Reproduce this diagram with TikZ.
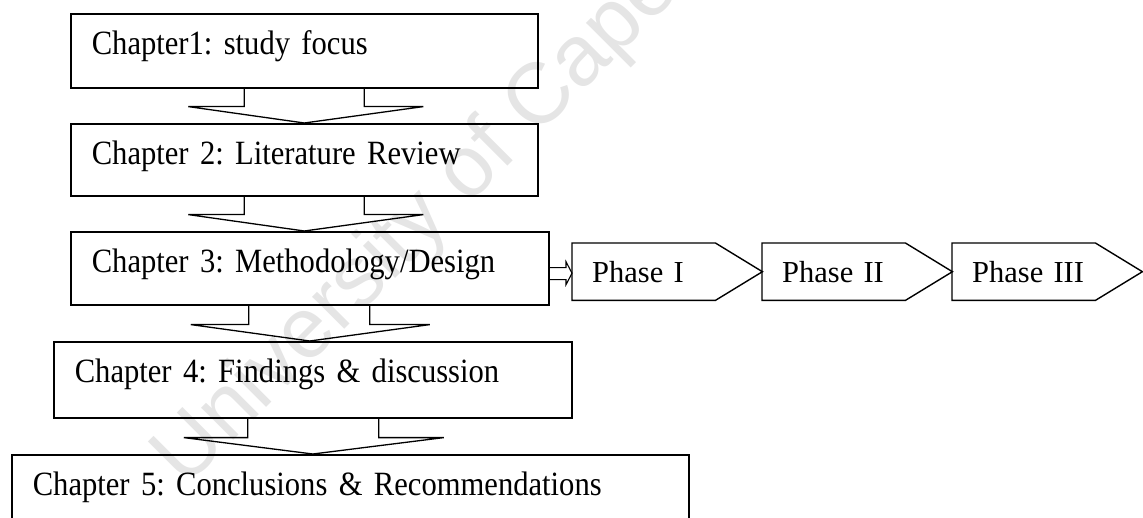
\documentclass[tikz,border=0pt]{standalone}
\usepackage{fontspec}
\setmainfont{Liberation Serif}
\newfontfamily\chapfont{Liberation Serif}[FakeStretch=0.9]
\newfontfamily\wmfont{Liberation Sans}
\usetikzlibrary{calc}
\frenchspacing
\tikzset{
  chap/.style={draw, line width=1.6pt, anchor=north west, inner xsep=21pt, inner ysep=0pt,
    text height=41pt, align=left, font=\chapfont\fontsize{34}{38}\selectfont},
  phase/.style={anchor=north west, inner xsep=20pt, inner ysep=0pt, text width=150pt,
    text height=39pt, text depth=18pt, align=left, font=\fontsize{30.5}{34}\selectfont},
  phaseline/.style={draw, line width=1.4pt, line join=miter},
  conn/.style={draw, line width=1.3pt, line join=miter},
  wm/.style={text=black!10, font=\wmfont\fontsize{86}{90}\selectfont, inner sep=0pt}
}
\newcommand\chaparrow[7]{%
  \draw[conn] ($(#1.south)+(-#3,0)$) -- ($(#1.south)+(-#3,#7)$) -- ($(#1.south)+(-#5,#7)$)
    -- (#1.south |- #2.north) -- ($(#1.south)+(#6,#7)$) -- ($(#1.south)+(#4,#7)$)
    -- ($(#1.south)+(#4,0)$);}
\begin{document}
\begin{tikzpicture}[x=1pt,y=-1pt]
\clip (0,0) rectangle (1143,518);
\node[wm, rotate=45, anchor=base west] (wm) at (185,489) {University of Cape Town};
% chapter boxes
\node[chap, text width=425pt, text depth=33pt] (b1) at (70,13) {Chapter1: study focus};
\node[chap, text width=425pt, text depth=31pt] (b2) at (70,123) {Chapter 2: Literature Review};
\node[chap, text width=436pt, text depth=32pt] (b3) at (70,231) {Chapter 3: Methodology/Design};
\node[chap, text width=476pt, text depth=35pt] (b4) at (53,341) {Chapter 4: Findings \& discussion};
\node[chap, text width=635pt, text depth=40pt] (b5) at (11,454) {Chapter 5: Conclusions \& Recommendations};
% block arrows between chapters
\chaparrow{b1}{b2}{60}{60}{116}{119}{18}
\chaparrow{b2}{b3}{60}{60}{116}{119}{18}
\chaparrow{b3}{b4}{61}{60}{119}{120}{19}
\chaparrow{b4}{b5}{65}{66}{129}{131}{19}
% phases
\node[phase] (p1) at (572,243) {Phase I};
\node[phase] (p2) at (762,243) {Phase II};
\node[phase] (p3) at (952,243) {Phase III};
\foreach \p in {p1,p2,p3}{
  \draw[phaseline] (\p.north west) -- ($(\p.north east)+(-47,0)$) -- (\p.east)
    -- ($(\p.south east)+(-47,0)$) -- (\p.south west) -- cycle;
}
% hollow arrow from chapter 3 to phase I
\draw[conn, line width=1.1pt] (b3.east |- {$(p1.west)+(0,-4)$}) -- ($(p1.west)+(-6,-4)$) -- ($(p1.west)+(-6,-10)$)
  -- ($(p1.west)+(0,1.5)$) -- ($(p1.west)+(-6,13)$) -- ($(p1.west)+(-6,8)$) -- (b3.east |- {$(p1.west)+(0,8)$});
\end{tikzpicture}
\end{document}
